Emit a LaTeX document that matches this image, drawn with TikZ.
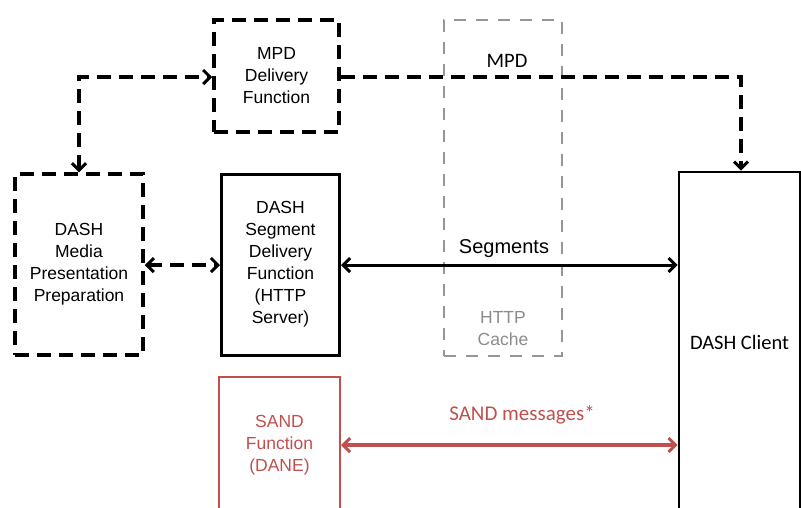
\documentclass[tikz,border=0pt]{standalone}
\usepackage{fontspec}
\setmainfont{Liberation Sans}
\newfontfamily\calib{Carlito}
\usetikzlibrary{arrows.meta}
\definecolor{sandred}{RGB}{192,80,77}
\definecolor{cachegray}{RGB}{150,150,150}
\definecolor{cachetext}{RGB}{140,140,140}
\tikzset{
  barb/.tip={Straight Barb[length=7pt,width=14pt,line width=3pt]},
  dashbox/.style={draw=black,line width=3.5pt,dash pattern=on 14pt off 8pt,align=center,inner sep=0pt,font=\fontsize{17.5}{22}\selectfont},
  solidbox/.style={draw=black,line width=3pt,align=center,inner sep=0pt,font=\fontsize{17.5}{22}\selectfont},
  cachebox/.style={draw=cachegray,line width=2.8pt,dash pattern=on 12pt off 10pt,inner sep=0pt},
  sandbox/.style={draw=sandred,line width=2pt,align=center,inner sep=0pt,text=sandred,font=\fontsize{17.5}{22}\selectfont},
  dashlink/.style={line width=3.5pt,dash pattern=on 14pt off 8pt,barb-barb},
  solidlink/.style={line width=3pt,barb-barb},
  sandlink/.style={line width=3.4pt,draw=sandred,barb-barb},
  lbl/.style={inner sep=0pt}
}
\begin{document}
\begin{tikzpicture}[x=1pt,y=-1pt]
\clip (0,0) rectangle (801,507);
\fill[white] (0,0) rectangle (801,507);
% HTTP cache (behind)
\node[cachebox,minimum width=118pt,minimum height=336pt] (cache) at (503,188) {};
\node[lbl,text=cachetext,align=center,font=\fontsize{17.5}{22}\selectfont] (cachetxt) at (503,329) {HTTP\\Cache};
% boxes
\node[dashbox,minimum width=125pt,minimum height=112pt] (mpd) at (276.5,76) {MPD\\Delivery\\Function};
\node[dashbox,minimum width=128pt,minimum height=181pt] (prep) at (79,264.5) {DASH\\Media\\Presentation\\Preparation};
\node[solidbox,minimum width=118pt,minimum height=181pt] (seg) at (280.5,264.5) {DASH\\Segment\\Delivery\\Function\\(HTTP\\Server)};
\node[sandbox,minimum width=121pt,minimum height=136pt] (sand) at (279.5,445) {SAND\\Function\\(DANE)};
\node[draw=black,line width=2.6pt,inner sep=0pt,minimum width=121pt,minimum height=340pt,font=\calib\fontsize{20.5}{24}\selectfont] (client) at (739.5,342) {DASH Client};
% corner coordinates
\coordinate (c1) at (79,77);
\coordinate (c2) at (741,77);
% connectors
\draw[dashlink] (prep.north -| c1) -- (c1) -- (mpd.west |- c1);
\draw[dashlink,-barb] (mpd.east |- c2) -- (c2) -- (client.north -| c2);
\draw[dashlink] (prep.east |- 0,265) -- (seg.west |- 0,265);
\draw[solidlink] (seg.east |- 0,265) -- (client.west |- 0,265);
\draw[sandlink] (sand.east |- 0,445) -- (client.west |- 0,445);
% labels
\node[lbl,font=\calib\fontsize{20.5}{24}\selectfont] (mpdlbl) at (507,61) {MPD};
\node[lbl,font=\fontsize{20}{22}\selectfont] (seglbl) at (504,249) {Segments};
\node[lbl,text=sandred,font=\calib\fontsize{21}{24}\selectfont] (sandlbl) at (522,415) {SAND messages*};
\end{tikzpicture}
\end{document}
